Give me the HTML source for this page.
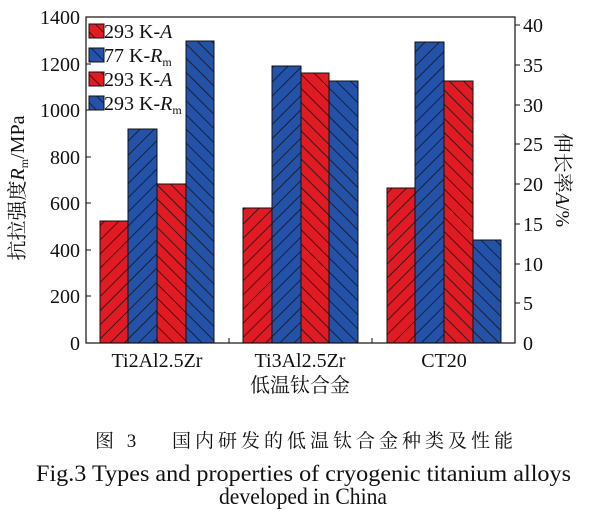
<!DOCTYPE html>
<html><head><meta charset="utf-8"><style>
body{margin:0;background:#fff;}
svg{display:block;font-family:"Liberation Serif","Noto Serif CJK SC",serif;}
</style></head><body>
<svg width="607" height="513" viewBox="0 0 607 513" xmlns="http://www.w3.org/2000/svg">
<defs>
<pattern id="rf" patternUnits="userSpaceOnUse" width="10" height="10" patternTransform="rotate(45)">
<rect width="10" height="10" fill="#e01b24"/><line x1="0" y1="0" x2="0" y2="10" stroke="#111" stroke-width="1.5"/></pattern>
<pattern id="bf" patternUnits="userSpaceOnUse" width="10" height="10" patternTransform="rotate(45)">
<rect width="10" height="10" fill="#2452a8"/><line x1="0" y1="0" x2="0" y2="10" stroke="#111" stroke-width="1.5"/></pattern>
<pattern id="rb" patternUnits="userSpaceOnUse" width="10" height="10" patternTransform="rotate(-45)">
<rect width="10" height="10" fill="#e01b24"/><line x1="0" y1="0" x2="0" y2="10" stroke="#111" stroke-width="1.5"/></pattern>
<pattern id="bb" patternUnits="userSpaceOnUse" width="10" height="10" patternTransform="rotate(-45)">
<rect width="10" height="10" fill="#2452a8"/><line x1="0" y1="0" x2="0" y2="10" stroke="#111" stroke-width="1.5"/></pattern>
</defs>
<g stroke="#111" stroke-width="1">
<rect x="100" y="221" width="28" height="122" fill="url(#rf)"/>
<rect x="128" y="129" width="29" height="214" fill="url(#bf)"/>
<rect x="157" y="184" width="29" height="159" fill="url(#rb)"/>
<rect x="186" y="41" width="28" height="302" fill="url(#bb)"/>
<rect x="243" y="208" width="29" height="135" fill="url(#rf)"/>
<rect x="272" y="66" width="29" height="277" fill="url(#bf)"/>
<rect x="301" y="73" width="28" height="270" fill="url(#rb)"/>
<rect x="329" y="81" width="29" height="262" fill="url(#bb)"/>
<rect x="387" y="188" width="28" height="155" fill="url(#rf)"/>
<rect x="415" y="42" width="29" height="301" fill="url(#bf)"/>
<rect x="444" y="81" width="29" height="262" fill="url(#rb)"/>
<rect x="473" y="240" width="28" height="103" fill="url(#bb)"/>
</g>
<rect x="86" y="17" width="429" height="326" fill="none" stroke="#111" stroke-width="1.2"/>
<g stroke="#111" stroke-width="1">
<line x1="86" y1="64" x2="91" y2="64"/><line x1="86" y1="110" x2="91" y2="110"/><line x1="86" y1="157" x2="91" y2="157"/>
<line x1="86" y1="203" x2="91" y2="203"/><line x1="86" y1="250" x2="91" y2="250"/><line x1="86" y1="296" x2="91" y2="296"/>
<line x1="229" y1="343" x2="229" y2="338"/><line x1="372" y1="343" x2="372" y2="338"/>
<line x1="515" y1="25" x2="520" y2="25"/><line x1="515" y1="65" x2="520" y2="65"/><line x1="515" y1="105" x2="520" y2="105"/>
<line x1="515" y1="144" x2="520" y2="144"/><line x1="515" y1="184" x2="520" y2="184"/><line x1="515" y1="224" x2="520" y2="224"/>
<line x1="515" y1="264" x2="520" y2="264"/><line x1="515" y1="303" x2="520" y2="303"/>
</g>
<g font-size="20" text-anchor="end" fill="#111">
<text x="80" y="24">1400</text><text x="80" y="71">1200</text><text x="80" y="117">1000</text>
<text x="80" y="164">800</text><text x="80" y="210">600</text><text x="80" y="257">400</text>
<text x="80" y="303">200</text><text x="80" y="350">0</text>
</g>
<g font-size="20" fill="#111">
<text x="523" y="32">40</text><text x="523" y="72">35</text><text x="523" y="112">30</text>
<text x="523" y="151">25</text><text x="523" y="191">20</text><text x="523" y="231">15</text>
<text x="523" y="271">10</text><text x="523" y="310">5</text><text x="523" y="350">0</text>
</g>
<g font-size="20" text-anchor="middle" fill="#111">
<text x="157" y="367">Ti2Al2.5Zr</text><text x="300" y="367">Ti3Al2.5Zr</text><text x="444" y="367">CT20</text>
<text x="300" y="392">低温钛合金</text>
</g>
<text transform="translate(24,188) rotate(-90)" font-size="20" text-anchor="middle" fill="#111">抗拉强度<tspan font-style="italic">R</tspan><tspan font-size="12" dy="4">m</tspan><tspan dy="-4">/MPa</tspan></text>
<text transform="translate(556,180) rotate(90)" font-size="20" text-anchor="middle" fill="#111">伸长率<tspan font-style="italic">A</tspan>/%</text>
<g stroke="#111" stroke-width="1">
<rect x="89" y="24" width="15" height="14" fill="url(#rb)"/>
<rect x="89" y="48" width="15" height="14" fill="url(#bb)"/>
<rect x="89" y="72" width="15" height="14" fill="url(#rb)"/>
<rect x="89" y="96" width="15" height="14" fill="url(#bb)"/>
</g>
<g font-size="20" fill="#111">
<text x="104" y="38">293 K-<tspan font-style="italic">A</tspan></text>
<text x="104" y="62">77 K-<tspan font-style="italic">R</tspan><tspan font-size="12" dy="4">m</tspan></text>
<text x="104" y="86">293 K-<tspan font-style="italic">A</tspan></text>
<text x="104" y="110">293 K-<tspan font-style="italic">R</tspan><tspan font-size="12" dy="4">m</tspan></text>
</g>
<text x="95" y="447" font-size="19" fill="#111" textLength="418" lengthAdjust="spacing">图 3　 国内研发的低温钛合金种类及性能</text>
<text x="36" y="481" font-size="23" fill="#111" textLength="535" lengthAdjust="spacingAndGlyphs">Fig.3 Types and properties of cryogenic titanium alloys</text>
<text x="303" y="504" font-size="23" text-anchor="middle" fill="#111" textLength="168" lengthAdjust="spacingAndGlyphs">developed in China</text>
</svg>
</body></html>
